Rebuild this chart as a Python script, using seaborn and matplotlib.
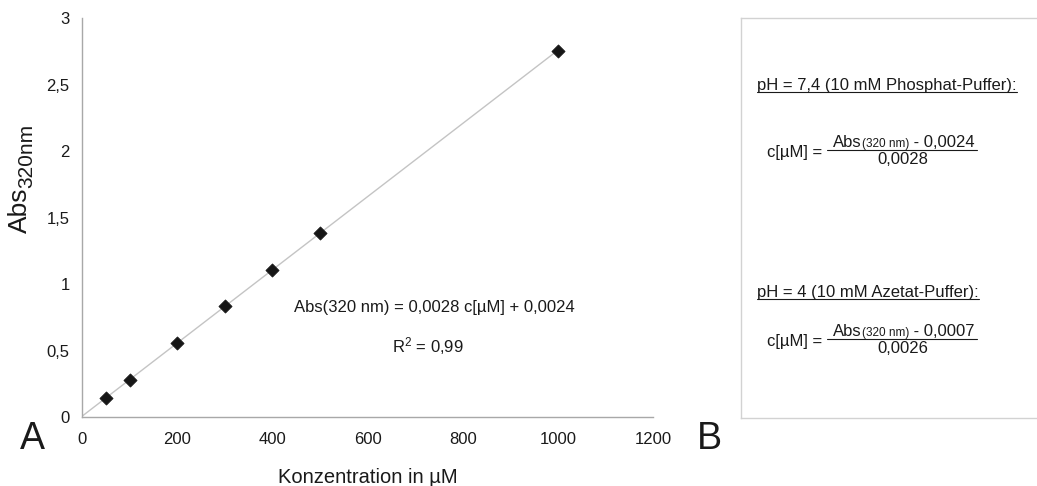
import numpy as np
import pandas as pd
import seaborn as sns
import matplotlib.pyplot as plt

# calibration data
konz = [50, 100, 200, 300, 400, 500, 1000]
absorb = [0.14, 0.28, 0.555, 0.835, 1.105, 1.385, 2.755]
x_ticks = [0, 200, 400, 600, 800, 1000, 1200]
y_ticks = [0, 0.5, 1, 1.5, 2, 2.5, 3]
y_ticklabels = ["0", "0,5", "1", "1,5", "2", "2,5", "3"]

sns.set_style("white")
plt.rcParams["font.family"] = ["Liberation Sans", "DejaVu Sans"]
plt.rcParams["mathtext.default"] = "regular"

df = pd.DataFrame({"konz": konz, "abs": absorb})

fig = plt.figure(figsize=(10.37, 4.86), dpi=100)
W, H = 1037, 486
ax = fig.add_axes([82 / W, 1 - 417 / H, (653 - 82) / W, (417 - 18) / H])

# linear trend line from zero up to the last point
slope, icpt = np.polyfit(df["konz"], df["abs"], 1)
fit = pd.DataFrame({"konz": [0, df["konz"].max()]})
fit["abs"] = slope * fit["konz"] + icpt
sns.lineplot(data=fit, x="konz", y="abs", ax=ax, color="#c4c4c4", lw=1)

sns.scatterplot(data=df, x="konz", y="abs", ax=ax, marker="D", s=45,
                color="#161616", edgecolor="#161616", zorder=3)

ax.set_xlim(0, 1200)
ax.set_ylim(0, 3)
ax.set_xticks(x_ticks)
ax.set_yticks(y_ticks)
ax.set_yticklabels(y_ticklabels)
sns.despine(ax=ax)
for s in ["left", "bottom"]:
    ax.spines[s].set_color("#a8a8a8")
    ax.spines[s].set_linewidth(1)
ax.tick_params(axis="both", length=5, width=1, color="#a8a8a8",
               labelsize=12, labelcolor="#1a1a1a")
ax.tick_params(axis="x", pad=6)
ax.tick_params(axis="y", pad=4)
ax.set_xlabel("Konzentration in µM", fontsize=14.5, color="#1a1a1a", labelpad=15)
ax.set_ylabel("")

tc = "#1a1a1a"
# y label: "Abs" with a large-ish subscript
ylab = fig.text(20 / W, 1 - 233 / H, "Abs", fontsize=19, color=tc,
                rotation=90, ha="center", va="bottom")
fig.canvas.draw()
rend = fig.canvas.get_renderer()
ax.annotate("320nm", xy=(1, 1), xycoords=ylab, xytext=(4, 0),
            textcoords="offset pixels", fontsize=15, color=tc,
            rotation=90, ha="right", va="bottom")

ax.text(446, 0.82, "Abs(320 nm) = 0,0028 c[µM] + 0,0024", ha="left",
        va="center", fontsize=12, color=tc)
ax.text(651, 0.535, "R$^2$ = 0,99", ha="left", va="center",
        fontsize=12, color=tc)

fig.text(20 / W, 1 - 449 / H, "A", fontsize=27, color=tc)
fig.text(697 / W, 1 - 449 / H, "B", fontsize=27, color=tc)

# right panel with the conversion formulas (pixel coordinates)
ax2 = fig.add_axes([741 / W, 1 - 418 / H, 305 / W, 400 / H])
ax2.set_xlim(741, 1046)
ax2.set_ylim(418, 18)
ax2.set_xticks([])
ax2.set_yticks([])
for s in ax2.spines.values():
    s.set_color("#d2d2d2")
    s.set_linewidth(1)


def underlined(x, y, txt):
    t = ax2.text(x, y, txt, fontsize=12, color=tc, va="baseline")
    bb = t.get_window_extent(renderer=rend).transformed(ax2.transData.inverted())
    ax2.plot([bb.x0, bb.x1], [y + 2, y + 2], color=tc, lw=0.8)


def formula(yline, const, denom):
    ax2.text(767, yline + 2, "c[µM] =", fontsize=12, color=tc, va="center")
    t1 = ax2.text(833, yline - 3, "Abs", fontsize=12, color=tc, va="baseline")
    t2 = ax2.annotate("(320 nm)", xy=(1, 0), xycoords=t1, fontsize=8.5,
                      color=tc, va="bottom")
    ax2.annotate(" - " + const, xy=(1, 0), xycoords=t2, fontsize=12,
                 color=tc, va="bottom")
    ax2.plot([827, 977], [yline, yline], color=tc, lw=0.8)
    ax2.text(903, yline + 2, denom, fontsize=12, color=tc, ha="center", va="top")


underlined(757, 90, "pH = 7,4 (10 mM Phosphat-Puffer):")
formula(150, "0,0024", "0,0028")
underlined(757, 297, "pH = 4 (10 mM Azetat-Puffer):")
formula(339, "0,0007", "0,0026")

fig.savefig("out.png", dpi=100)
